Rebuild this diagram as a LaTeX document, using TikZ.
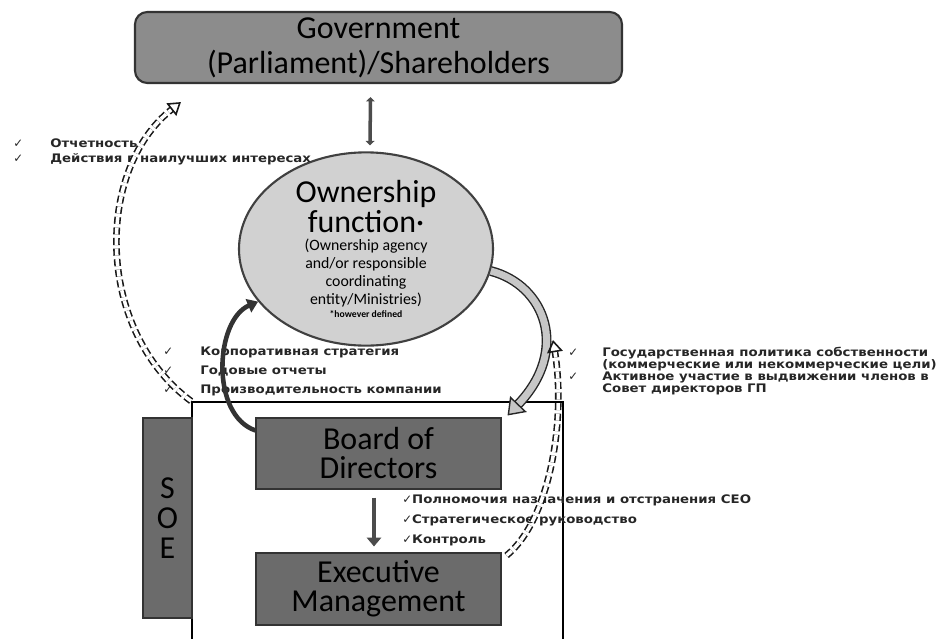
\documentclass[tikz,border=0pt]{standalone}
\usepackage{fontspec}
\setmainfont{Carlito}
\newfontfamily\rufont{DejaVu Sans}[FakeStretch=1.13]
\newfontfamily\chkfont{DejaVu Sans}
\usepackage{tikz}
\usetikzlibrary{arrows.meta,positioning,calc,shapes.geometric}

\newcommand{\pxu}{0.02cm}
\newcommand{\tightlines}{\lineskiplimit=-100pt\lineskip=0pt}
\newcommand{\bigtext}[1]{\fontsize{18.2}{#1}\selectfont\tightlines}
\newcommand{\rulistfont}[1]{\rufont\bfseries\fontsize{6.7}{#1}\selectfont\tightlines}
\newcommand{\tck}{{\chkfont\mdseries ✓}}
\newcommand{\chk}{\makebox[0.74cm][l]{\tck}}
\newcommand{\chkr}{\makebox[0.68cm][l]{\tck}}
\newcommand{\nochkr}{\hspace*{0.68cm}}

\tikzset{
  govbox/.style={draw=black!80, line width=1.2pt, rounded corners=7pt, fill=black!45,
    minimum width=487*\pxu, minimum height=71*\pxu, align=center, inner sep=0pt,
    font=\bigtext{20}},
  orgbox/.style={draw=black!80, line width=0.6pt, fill=black!58,
    minimum width=245*\pxu, minimum height=71*\pxu, align=center, inner sep=0pt,
    font=\bigtext{16.5}},
  ownell/.style={ellipse, draw=black!75, line width=1.2pt, fill=black!18,
    minimum width=254*\pxu, minimum height=170*\pxu, align=center, inner sep=0pt,
    font=\fontsize{9}{10.3}\selectfont\tightlines},
  rulist/.style={align=left, inner sep=0pt, text=black!85, font=\rulistfont{#1}},
  bararrow/.style={draw=black!70, line width=2.8pt, -{Triangle[length=5pt,width=8pt]}},
  linkarrow/.style={draw=black!70, line width=2pt,
    {Triangle[length=2.5pt,width=5pt]}-{Triangle[length=2.5pt,width=5pt]}},
  darkarrow/.style={draw=black!80, line width=2.6pt, -{Triangle[length=6pt,width=8pt]}},
  grayarrow/.style={draw=black!85, line width=0.8pt, double=black!22, double distance=4pt,
    -{Triangle[open, fill=black!22, length=9pt, width=13pt]}},
  dasharrow/.style={draw=black!90, line width=0.9pt, double=white, double distance=2pt,
    dash pattern=on 4pt off 2pt, -{Triangle[open, length=7pt, width=9pt]}}
}

\begin{document}
\begin{tikzpicture}[x=\pxu, y=-\pxu]
  \useasboundingbox (0,0) rectangle (937,639);

  % Top
  \node[govbox] (gov) at (378.5,47.5) {Government\\(Parliament)/Shareholders};
  \node[ownell] (own) at (366,249) {\bigtext{11}Ownership\\[6.5pt]
    \bigtext{11}function\textperiodcentered\\[-0.2pt]
    (Ownership agency\\and/or responsible\\coordinating\\entity/Ministries)\\[-3pt]
    \fontsize{5.5}{6}\selectfont\bfseries *however defined};

  % SOE
  \node[draw=black, line width=1pt, fill=white, minimum width=371*\pxu,
    minimum height=248*\pxu, inner sep=0pt] (soebox) at (377.5,526) {};
  \node[orgbox, minimum width=49*\pxu, minimum height=200*\pxu, font=\bigtext{17}]
    (soe) at (167.5,518) {S\\O\\E};
  \node[orgbox] (board) at (378.5,453.5) {Board of\\Directors};
  \node[orgbox, minimum height=72*\pxu] (exec) at (378.5,589) {Executive\\Management};

  % Lists
  \node[rulist=8.5, anchor=west] (report) at (13,151.5)
    {\chk Отчетность\\ \chk Действия в наилучших интересах};
  \node[rulist=10.8, anchor=west] (strategy) at (163,371.5)
    {\chk Корпоративная стратегия\\ \chk Годовые отчеты\\ \chk Производительность компании};
  \node[rulist=6.8, anchor=west] (policy) at (568,371)
    {\chkr Государственная политика собственности\\
     \nochkr (коммерческие или некоммерческие цели)\\
     \chkr Активное участие в выдвижении членов в\\
     \nochkr Совет директоров ГП};
  \node[rulist=11.4, anchor=west] (control) at (402,520)
    {\tck Полномочия назначения и отстранения CEO\\
     \tck Стратегическое руководство\\ \tck Контроль};

  % Connectors
  \coordinate (dashtip) at (553,340);
  \draw[linkarrow] ($(gov.south)+(-8,13)$) -- ($(own.north)+(4,-6)$);
  \draw[bararrow] ($(board.south)+(-4.5,8)$) -- ($(exec.north)+(-4.5,-6)$);
  \draw[darkarrow] ($(board.north west)+(0,13)$) .. controls (210,415) and (215,320) .. (own.206);
  \draw[grayarrow] (own.350) .. controls (545,285) and (570,350) .. ($(board.north east)+(6,-2)$);
  \draw[dasharrow] (soebox.north west) .. controls (95,330) and (95,170) .. ($(gov.south west)+(47,18)$);
  \draw[dasharrow] ($(exec.north east)+(5,3)$) .. controls (550,520) and (566,420) .. (dashtip);
\end{tikzpicture}
\end{document}
